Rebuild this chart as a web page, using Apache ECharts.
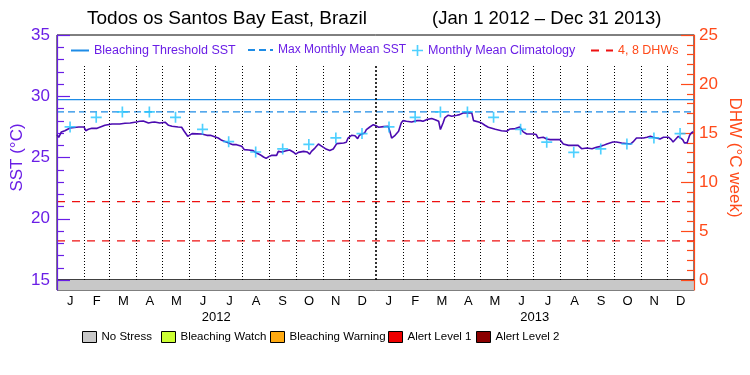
<!DOCTYPE html>
<html><head><meta charset="utf-8">
<script src="https://cdn.jsdelivr.net/npm/echarts@6/dist/echarts.min.js"></script>
<style>html,body{margin:0;padding:0;background:#fff}#c{width:750px;height:375px}</style>
</head><body><div id="c"></div>
<script>
// ---------- DATA ----------
const sstDates = ['2012-01-01','2012-01-03','2012-01-06','2012-01-10','2012-01-16','2012-01-18','2012-01-26','2012-02-01','2012-02-03','2012-02-06','2012-02-10','2012-02-16','2012-02-17','2012-02-25','2012-02-27','2012-03-04','2012-03-09','2012-03-11','2012-03-13','2012-03-19','2012-03-25','2012-04-01','2012-04-05','2012-04-09','2012-04-11','2012-04-15','2012-04-19','2012-04-22','2012-04-28','2012-04-30','2012-05-04','2012-05-08','2012-05-12','2012-05-19','2012-05-23','2012-05-26','2012-05-30','2012-06-01','2012-06-04','2012-06-15','2012-06-21','2012-06-25','2012-06-27','2012-07-04','2012-07-08','2012-07-10','2012-07-14','2012-07-18','2012-07-21','2012-07-25','2012-07-31','2012-08-03','2012-08-08','2012-08-13','2012-08-17','2012-08-21','2012-08-25','2012-08-28','2012-08-31','2012-09-03','2012-09-09','2012-09-11','2012-09-15','2012-09-20','2012-09-24','2012-09-28','2012-10-01','2012-10-04','2012-10-10','2012-10-14','2012-10-17','2012-10-19','2012-10-23','2012-10-27','2012-10-31','2012-11-04','2012-11-09','2012-11-13','2012-11-17','2012-11-25','2012-11-28','2012-11-30','2012-12-04','2012-12-08','2012-12-11','2012-12-13','2012-12-16','2012-12-19','2012-12-21','2012-12-25','2012-12-29','2013-01-01','2013-01-04','2013-01-10','2013-01-15','2013-01-17','2013-01-19','2013-01-23','2013-01-27','2013-01-30','2013-02-01','2013-02-05','2013-02-11','2013-02-17','2013-02-21','2013-02-24','2013-02-28','2013-03-06','2013-03-10','2013-03-12','2013-03-14','2013-03-16','2013-03-19','2013-03-21','2013-03-25','2013-03-29','2013-04-04','2013-04-07','2013-04-11','2013-04-21','2013-04-23','2013-04-29','2013-05-02','2013-05-06','2013-05-08','2013-05-10','2013-05-12','2013-05-18','2013-05-20','2013-05-25','2013-05-31','2013-06-04','2013-06-10','2013-06-15','2013-06-17','2013-06-19','2013-06-23','2013-07-01','2013-07-04','2013-07-06','2013-07-08','2013-07-12','2013-07-16','2013-07-20','2013-07-31','2013-08-04','2013-08-10','2013-08-14','2013-08-15','2013-08-17','2013-08-21','2013-08-25','2013-08-31','2013-09-02','2013-09-06','2013-09-11','2013-09-16','2013-09-19','2013-09-23','2013-09-30','2013-10-04','2013-10-10','2013-10-12','2013-10-20','2013-10-23','2013-10-27','2013-11-04','2013-11-08','2013-11-12','2013-11-15','2013-11-19','2013-11-23','2013-11-27','2013-12-03','2013-12-06','2013-12-08','2013-12-10','2013-12-14','2013-12-16','2013-12-19','2013-12-21','2013-12-24','2013-12-27','2013-12-29','2013-12-31'];
const sstValues = [26.85,26.65,27.09,27.19,27.41,27.47,27.49,27.49,27.19,27.30,27.38,27.38,27.47,27.63,27.74,27.74,27.74,27.63,27.74,27.79,27.82,27.90,27.96,27.98,27.90,27.82,27.88,27.90,27.82,27.96,27.88,27.63,27.55,27.49,27.47,27.14,26.73,26.87,26.95,26.92,26.81,26.81,26.68,26.59,26.40,26.29,26.24,26.13,26.05,26.05,25.91,25.64,25.61,25.56,25.37,25.23,25.04,24.93,25.07,25.17,25.17,25.50,25.45,25.56,25.61,25.45,25.28,25.42,25.50,25.45,25.28,25.50,25.77,26.10,25.91,25.72,25.58,25.69,26.13,26.19,26.24,26.59,26.81,26.78,26.54,26.81,26.92,27.00,27.28,27.49,27.68,27.60,27.47,27.52,27.55,27.14,26.59,26.81,27.14,27.82,28.01,27.96,27.90,28.01,28.01,27.96,28.09,28.18,28.09,28.18,27.96,27.28,27.82,28.23,28.45,28.37,28.45,28.50,28.64,28.64,28.01,27.90,27.82,27.63,27.77,27.47,27.37,27.30,27.33,27.19,27.14,27.33,27.36,27.49,27.36,27.09,26.92,26.92,26.87,26.59,26.68,26.65,26.51,26.46,26.46,26.10,25.99,25.99,25.83,25.99,25.99,25.72,25.77,25.64,25.72,25.83,25.91,25.99,26.10,26.27,26.27,26.19,26.10,26.10,26.27,26.59,26.59,26.65,26.73,26.65,26.59,26.51,26.65,26.65,26.46,26.27,26.37,26.73,26.87,26.46,26.19,26.19,26.81,27.00,27.10];

const climDates = ['2012-01-16','2012-02-15','2012-03-16','2012-04-16','2012-05-16','2012-06-16','2012-07-16','2012-08-16','2012-09-16','2012-10-16','2012-11-16','2012-12-16','2013-01-16','2013-02-15','2013-03-16','2013-04-16','2013-05-16','2013-06-16','2013-07-16','2013-08-16','2013-09-16','2013-10-16','2013-11-16','2013-12-16'];
const climValues = [27.50,28.28,28.72,28.72,28.28,27.30,26.29,25.45,25.70,26.07,26.60,26.95,27.50,28.28,28.72,28.72,28.28,27.30,26.25,25.42,25.70,26.10,26.60,26.95];

const maxMonthlyMean = 28.72;
const bleachingThreshold = 29.72;
const dhwLevels = [4, 8];

const monthLabels = ['J','F','M','A','M','J','J','A','S','O','N','D','J','F','M','A','M','J','J','A','S','O','N','D'];
const yearLabels = ['2012','2013'];
const monthBoundaries = ['2012-02-01','2012-03-01','2012-04-01','2012-05-01','2012-06-01','2012-07-01','2012-08-01','2012-09-01','2012-10-01','2012-11-01','2012-12-01','2013-01-01','2013-02-01','2013-03-01','2013-04-01','2013-05-01','2013-06-01','2013-07-01','2013-08-01','2013-09-01','2013-10-01','2013-11-01','2013-12-01'];
const yearBoundary = '2013-01-01';

const stressNames = ['No Stress','Bleaching Watch','Bleaching Warning','Alert Level 1','Alert Level 2'];
const stressColors = ['#c8c8c8','#ccff33','#ffaa11','#ee0000','#8b0000'];
const stressPeriods = [['2012-01-01','2014-01-01',0]];

const startDate = '2012-01-01';
const endDate = '2014-01-01';

// ---------- BUILD ----------
const t = s => new Date(s + 'T00:00:00').getTime();
const PURPLE = '#6a1ee6';
const ORANGE = '#ff4a1a';
const FONT = 'Liberation Sans';

const sstData = sstDates.map((d, i) => [t(d), sstValues[i]]);
const climData = climDates.map((d, i) => [t(d), climValues[i]]);
const xMin = t(startDate), xMax = t(endDate);

const dividerLines = monthBoundaries.map(d => {
  const major = d === yearBoundary;
  return [
    { coord: [t(d), 15], lineStyle: { color: '#000', width: major ? 1.6 : 1, type: major ? [2, 2] : [1, 2] } },
    { coord: [t(d), 32.6] }
  ];
});

const plusPath = 'path://M4.25,0H5.75V4.25H10V5.75H5.75V10H4.25V5.75H0V4.25H4.25Z';

const stressSeries = stressNames.map((name, lvl) => ({
  type: 'custom', name, xAxisIndex: 1, yAxisIndex: 2,
  itemStyle: { color: stressColors[lvl] },
  data: stressPeriods.filter(p => p[2] === lvl).map(p => [t(p[0]), t(p[1]), p[2]]),
  encode: { x: [0, 1] },
  renderItem: (params, api) => {
    const s = api.coord([api.value(0), 0]);
    const e = api.coord([api.value(1), 1]);
    return { type: 'rect', shape: { x: s[0], y: e[1], width: e[0] - s[0], height: s[1] - e[1] },
             style: { fill: stressColors[lvl] } };
  },
  silent: true, z: 1
}));

const dhwSeries = dhwLevels.map(v => ({
  type: 'line', name: '4, 8 DHWs', xAxisIndex: 0, yAxisIndex: 1,
  data: [[xMin, v], [xMax, v]], symbol: 'none', silent: true,
  lineStyle: { color: '#ee1111', width: 1.2, type: [8, 7] },
  itemStyle: { color: '#ee1111' }, z: 3
}));

const legendTop = (left, w, name, color, hideSymbol, fs) => ({
  left, top: 44, itemWidth: w, itemHeight: 12, itemGap: 0, selectedMode: false, padding: 0,
  data: [name], textStyle: { color, fontSize: fs, fontFamily: FONT },
  itemStyle: hideSymbol ? { opacity: 0, borderWidth: 0 } : {}
});
const stressLegendPos = [82, 161, 270, 388, 476];

const option = {
  animation: false,
  backgroundColor: '#fff',
  textStyle: { fontFamily: FONT },
  title: [
    { text: 'Todos os Santos Bay East, Brazil', left: 87, top: 9, padding: 0,
      textStyle: { fontSize: 19, fontWeight: 'normal', color: '#000', fontFamily: FONT } },
    { text: '(Jan 1 2012 \u2013 Dec 31 2013)', left: 432, top: 9, padding: 0,
      textStyle: { fontSize: 18.5, fontWeight: 'normal', color: '#000', fontFamily: FONT } }
  ],
  legend: [
    legendTop(70, 18, 'Bleaching Threshold SST', PURPLE, true, 12.5),
    legendTop(247, 25, 'Max Monthly Mean SST', PURPLE, true, 12),
    legendTop(412, 11, 'Monthly Mean Climatology', PURPLE, false, 12.5),
    legendTop(590, 22, '4, 8 DHWs', ORANGE, true, 12.5),
    ...stressNames.map((n, i) => ({
      left: stressLegendPos[i], top: 331, itemWidth: 14, itemHeight: 11, padding: 0, selectedMode: false,
      icon: 'rect', itemStyle: { borderColor: '#000', borderWidth: 1 },
      data: [n], textStyle: { color: '#000', fontSize: 11.5, fontFamily: FONT }
    }))
  ],
  grid: [
    { left: 57, right: 56, top: 35, height: 245, show: true, borderColor: '#000', borderWidth: 1,
      backgroundColor: 'transparent', containLabel: false, outerBoundsMode: 'none' },
    { left: 57, right: 56, top: 280, height: 10, show: true, borderColor: '#000', borderWidth: 1,
      backgroundColor: 'transparent', containLabel: false, outerBoundsMode: 'none' }
  ],
  xAxis: [
    { type: 'time', gridIndex: 0, min: xMin, max: xMax, show: false },
    { type: 'time', gridIndex: 1, min: xMin, max: xMax, show: false },
    { type: 'category', gridIndex: 1, position: 'bottom', data: monthLabels, boundaryGap: true,
      axisLine: { show: false }, axisTick: { show: false }, splitLine: { show: false },
      axisLabel: { interval: 0, color: '#000', fontSize: 13, margin: 5 } },
    { type: 'category', gridIndex: 1, position: 'bottom', offset: 16, data: yearLabels, boundaryGap: true,
      axisLine: { show: false }, axisTick: { show: false }, splitLine: { show: false },
      axisLabel: { interval: 0, color: '#000', fontSize: 13, margin: 5 } }
  ],
  yAxis: [
    { type: 'value', gridIndex: 0, position: 'left', min: 15, max: 35, interval: 5, z: 4,
      axisLine: { show: true, lineStyle: { color: PURPLE, width: 1.2 } },
      axisTick: { show: true, inside: true, length: 13, lineStyle: { color: PURPLE, width: 1.2 } },
      minorTick: { show: true, splitNumber: 5, length: 7, lineStyle: { color: PURPLE, width: 1.2 } },
      splitLine: { show: false },
      axisLabel: { color: PURPLE, fontSize: 17, margin: 7 },
      name: 'SST (\u00B0C)', nameLocation: 'middle', nameGap: 31, nameMoveOverlap: false,
      nameTextStyle: { color: PURPLE, fontSize: 17 } },
    { type: 'value', gridIndex: 0, position: 'right', min: 0, max: 25, interval: 5, z: 4,
      axisLine: { show: true, lineStyle: { color: ORANGE, width: 1.2 } },
      axisTick: { show: true, inside: true, length: 13, lineStyle: { color: ORANGE, width: 1.2 } },
      minorTick: { show: true, splitNumber: 5, length: 7, lineStyle: { color: ORANGE, width: 1.2 } },
      splitLine: { show: false },
      axisLabel: { color: ORANGE, fontSize: 17, margin: 5 },
      name: 'DHW (\u00B0C week)', nameLocation: 'middle', nameGap: 32, nameRotate: -90, nameMoveOverlap: false,
      nameTextStyle: { color: ORANGE, fontSize: 17 } },
    { type: 'value', gridIndex: 1, position: 'left', min: 0, max: 1, z: 4,
      axisLine: { show: true, lineStyle: { color: PURPLE, width: 1.2 } },
      axisTick: { show: false }, axisLabel: { show: false }, splitLine: { show: false } },
    { type: 'value', gridIndex: 1, position: 'right', min: 0, max: 1, z: 4,
      axisLine: { show: true, lineStyle: { color: ORANGE, width: 1.2 } },
      axisTick: { show: false }, axisLabel: { show: false }, splitLine: { show: false } }
  ],
  series: [
    ...stressSeries,
    { type: 'line', name: 'Bleaching Threshold SST', xAxisIndex: 0, yAxisIndex: 0,
      data: [[xMin, bleachingThreshold], [xMax, bleachingThreshold]], symbol: 'none', silent: true,
      lineStyle: { color: '#1e8ce6', width: 1.3 }, itemStyle: { color: '#1e8ce6' }, z: 3 },
    { type: 'line', name: 'Max Monthly Mean SST', xAxisIndex: 0, yAxisIndex: 0,
      data: [[xMin, maxMonthlyMean], [xMax, maxMonthlyMean]], symbol: 'none', silent: true,
      lineStyle: { color: '#1e8ce6', width: 1.3, type: [7, 4] }, itemStyle: { color: '#1e8ce6' }, z: 3 },
    ...dhwSeries,
    { type: 'line', name: 'SST', xAxisIndex: 0, yAxisIndex: 0, data: sstData,
      symbol: 'none', silent: true, lineStyle: { color: '#4b0bb0', width: 1.6 }, z: 5,
      markLine: { silent: true, symbol: 'none', label: { show: false }, animation: false, data: dividerLines } },
    { type: 'scatter', name: 'Monthly Mean Climatology', xAxisIndex: 0, yAxisIndex: 0, data: climData,
      symbol: plusPath, symbolSize: 11, silent: true, itemStyle: { color: '#22c4ff' }, z: 6 }
  ]
};
const chart = echarts.init(document.getElementById('c'), null, { renderer: 'canvas' });
chart.setOption(option);
</script></body></html>
